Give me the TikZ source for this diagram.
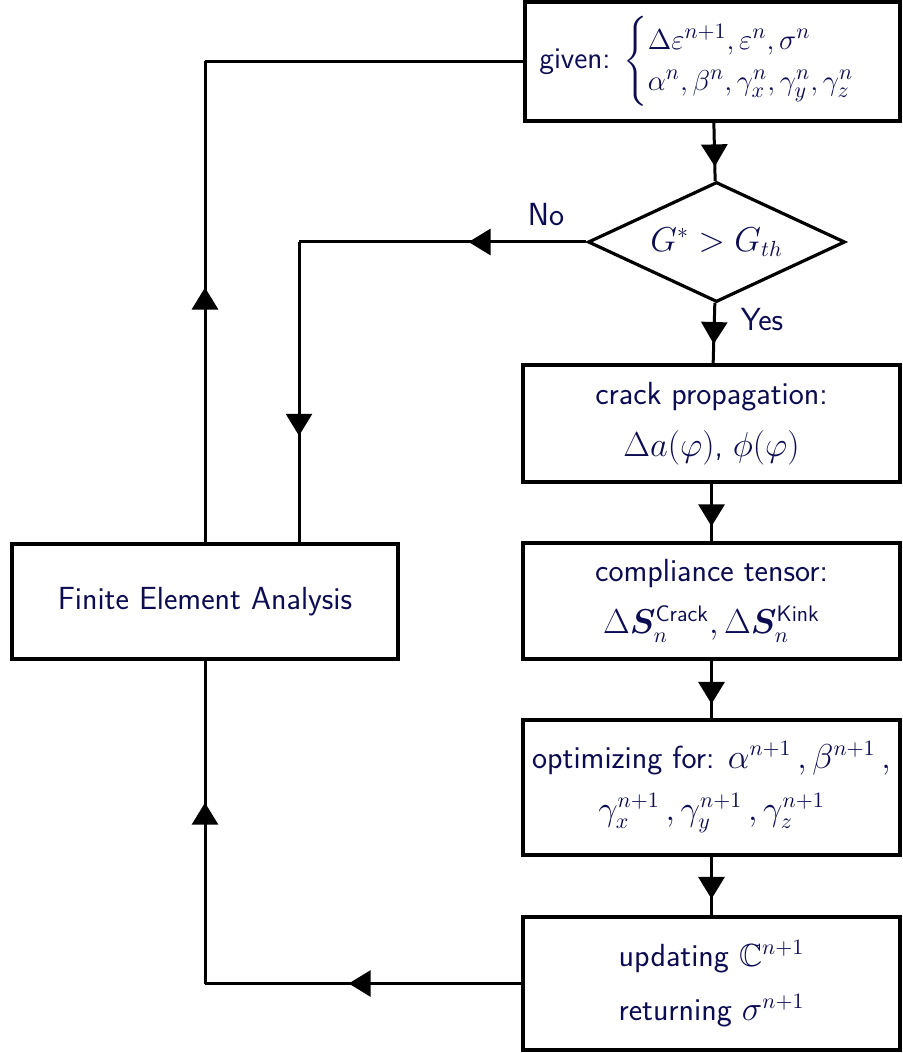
\documentclass[tikz,border=0pt]{standalone}
\usepackage{amsmath,amssymb}
\usepackage{bm}
\renewcommand{\familydefault}{\sfdefault}
\usetikzlibrary{arrows.meta,positioning,calc,decorations.markings,shapes}
\definecolor{inkblue}{RGB}{12,12,82}

\begin{document}
\begin{tikzpicture}[x=0.5pt, y=-0.5pt,
    box/.style={draw, line width=1.6pt, fill=white, text=inkblue, align=center, font=\fontsize{16}{19}\selectfont, inner sep=0pt},
    decision/.style={diamond, draw, line width=1.6pt, text=inkblue, font=\fontsize{16}{19}\selectfont, aspect=2.14, minimum width=128.5pt, minimum height=60pt, inner sep=0pt},
    flow/.style={line width=1.5pt, postaction={decorate}, decoration={markings, mark=at position #1 with {\arrow{Triangle[length=11pt,width=13pt]}}}},
    flow/.default=0.5,
    lbl/.style={text=inkblue, font=\fontsize{16}{19}\selectfont}]
    \useasboundingbox (0,0) rectangle (902,1053);

    % Right column
    \node[box, font=\fontsize{15}{17}\selectfont, minimum width=187.5pt, minimum height=59.5pt] (given) at (712.5, 61.5)
        {given: $\renewcommand{\arraystretch}{0.95}\begin{cases}\Delta\varepsilon^{n+1}, \varepsilon^{n}, \sigma^{n}\\ \alpha^{n}, \beta^{n}, \gamma_x^{n}, \gamma_y^{n}, \gamma_z^{n}\end{cases}$};
    \node[decision] (check) at (716.5, 242) {$G^{*} > G_{th}$};
    \node[box, minimum width=188.5pt, minimum height=58.5pt] (crack) at (711.5, 423.5)
        {crack propagation:\\[7pt] $\Delta a(\varphi)$, $\phi(\varphi)$};
    \node[box, minimum width=188.5pt, minimum height=58pt] (compl) at (711.5, 601)
        {compliance tensor:\\[7pt] $\Delta\bm{S}_n^{\text{Crack}}, \Delta\bm{S}_n^{\text{Kink}}$};
    \node[box, minimum width=188.5pt, minimum height=67.5pt] (optim) at (711.5, 787.5)
        {optimizing for: $\alpha^{n+1}\,, \beta^{n+1}\,,$\\[7pt] $\gamma_x^{n+1}\,, \gamma_y^{n+1}\,, \gamma_z^{n+1}$};
    \node[box, minimum width=188.5pt, minimum height=66.5pt] (update) at (711.5, 983.5)
        {updating $\mathbb{C}^{n+1}$\\[8pt] returning $\sigma^{n+1}$};

    % Left column
    \node[box, minimum width=193pt, minimum height=57.5pt] (fea) at (205, 601.5) {Finite Element Analysis};

    % Labels
    \node[lbl] (nolbl) at (546, 215) {No};
    \node[lbl] (yeslbl) at (762, 320) {Yes};

    % Bends
    \coordinate (noturn) at (299, 242);
    \coordinate (botturn) at (205, 983.5);
    \coordinate (topturn) at (205, 61.5);

    % Main flow
    \draw[flow=0.75] (given) -- (check);
    \draw[flow=0.68] (check) -- (crack);
    \draw[flow=0.74] (crack) -- (compl);
    \draw[flow=0.75] (compl) -- (optim);
    \draw[flow=0.72] (optim) -- (update);

    % No branch
    \draw[flow=0.41] (check.west) -- (noturn);
    \draw[flow=0.645] (noturn) -- (noturn |- fea.north);

    % Back loop
    \draw[flow=0.546] (update.west) -- (botturn);
    \draw[flow=0.56] (botturn) -- (fea.south);
    \draw[flow=0.53] (fea.north) -- (topturn);
    \draw[line width=1.5pt] (topturn) -- (given.west);
\end{tikzpicture}
\end{document}
